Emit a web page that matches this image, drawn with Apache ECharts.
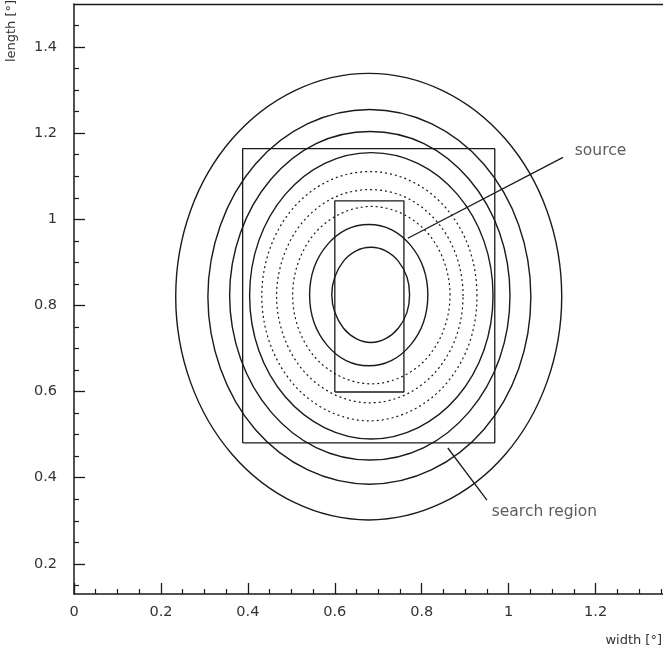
<!DOCTYPE html>
<html lang="en" style="height: 100%">
<head>
  <meta charset="utf-8">
</head>
<body style="height: 100%; margin: 0; background: #fff">
  <div id="container" style="width: 663px; height: 655px"></div>

  <script type="text/javascript" src="https://fastly.jsdelivr.net/npm/echarts@6.0.0/dist/echarts.min.js"></script>
  <script type="text/javascript">
// tick positions
var xMajor = [0, 0.2, 0.4, 0.6, 0.8, 1, 1.2];
var xMinor = [0.05, 0.1, 0.15, 0.25, 0.3, 0.35, 0.45, 0.5, 0.55, 0.65, 0.7, 0.75, 0.85, 0.9, 0.95, 1.05, 1.1, 1.15, 1.25, 1.3, 1.35];
var yMajor = [0.2, 0.4, 0.6, 0.8, 1, 1.2, 1.4];
var yMinor = [0.15, 0.25, 0.3, 0.35, 0.45, 0.5, 0.55, 0.65, 0.7, 0.75, 0.85, 0.9, 0.95, 1.05, 1.1, 1.15, 1.25, 1.3, 1.35, 1.45];

// contours, outermost first (width, length), closed loops
var contour1 = [[1.122,0.821],[1.088,1.020],[0.992,1.187],[0.848,1.299],[0.678,1.339],[0.508,1.299],[0.364,1.187],[0.268,1.020],[0.234,0.821],[0.268,0.622],[0.364,0.454],[0.508,0.342],[0.678,0.302],[0.848,0.342],[0.992,0.454],[1.088,0.622]];
var contour2 = [[1.051,0.820],[1.023,0.987],[0.943,1.128],[0.822,1.222],[0.680,1.255],[0.538,1.222],[0.417,1.128],[0.337,0.987],[0.308,0.820],[0.337,0.653],[0.417,0.512],[0.538,0.418],[0.680,0.385],[0.822,0.418],[0.943,0.512],[1.023,0.653]];
var contour3 = [[1.003,0.823],[0.979,0.969],[0.909,1.093],[0.805,1.176],[0.681,1.204],[0.557,1.176],[0.453,1.093],[0.383,0.969],[0.358,0.823],[0.383,0.677],[0.453,0.553],[0.557,0.470],[0.681,0.441],[0.805,0.470],[0.909,0.553],[0.979,0.677]];
var contour4 = [[0.964,0.823],[0.943,0.950],[0.882,1.058],[0.791,1.130],[0.684,1.155],[0.577,1.130],[0.486,1.058],[0.425,0.950],[0.404,0.823],[0.425,0.696],[0.486,0.588],[0.577,0.516],[0.684,0.490],[0.791,0.516],[0.882,0.588],[0.943,0.696]];
var dotted1 = [[0.927,0.822],[0.909,0.933],[0.855,1.027],[0.775,1.089],[0.680,1.111],[0.585,1.089],[0.505,1.027],[0.451,0.933],[0.432,0.822],[0.451,0.711],[0.505,0.617],[0.585,0.555],[0.680,0.532],[0.775,0.555],[0.855,0.617],[0.909,0.711]];
var dotted2 = [[0.895,0.822],[0.879,0.917],[0.833,0.997],[0.763,1.051],[0.681,1.069],[0.599,1.051],[0.529,0.997],[0.483,0.917],[0.466,0.822],[0.483,0.727],[0.529,0.647],[0.599,0.593],[0.681,0.574],[0.763,0.593],[0.833,0.647],[0.879,0.727]];
var dotted3 = [[0.865,0.824],[0.851,0.903],[0.812,0.970],[0.753,1.014],[0.684,1.030],[0.615,1.014],[0.556,0.970],[0.517,0.903],[0.503,0.824],[0.517,0.745],[0.556,0.678],[0.615,0.634],[0.684,0.618],[0.753,0.634],[0.812,0.678],[0.851,0.745]];
var contour5 = [[0.814,0.824],[0.804,0.887],[0.774,0.940],[0.730,0.976],[0.678,0.988],[0.626,0.976],[0.582,0.940],[0.552,0.887],[0.542,0.824],[0.552,0.761],[0.582,0.708],[0.626,0.672],[0.678,0.660],[0.730,0.672],[0.774,0.708],[0.804,0.761]];
var contour6 = [[0.772,0.825],[0.766,0.866],[0.746,0.903],[0.717,0.927],[0.683,0.935],[0.649,0.927],[0.620,0.903],[0.600,0.866],[0.593,0.825],[0.600,0.784],[0.620,0.747],[0.649,0.723],[0.683,0.714],[0.717,0.723],[0.746,0.747],[0.766,0.784]];

// boxes
var searchBox = [[0.388,0.481],[0.968,0.481],[0.968,1.164],[0.388,1.164],[0.388,0.481]];
var sourceBox = [[0.600,0.599],[0.759,0.599],[0.759,1.043],[0.600,1.043],[0.600,0.599]];

// annotation pointers and labels
var sourcePointer = [[0.768,0.956],[1.125,1.144]];
var searchPointer = [[0.860,0.469],[0.950,0.348]];
var notes = [
  { name: 'source', value: [1.152, 1.159] },
  { name: 'search region', value: [0.961, 0.320] }
];

var dom = document.getElementById('container');
var myChart = echarts.init(dom, null, { renderer: 'canvas' });

var ink = '#1a1a1a';
var font = 'DejaVu Sans';
var textColor = '#333';

var loops = [
  { pts: contour1, dashed: false },
  { pts: contour2, dashed: false },
  { pts: contour3, dashed: false },
  { pts: contour4, dashed: false },
  { pts: dotted1, dashed: true },
  { pts: dotted2, dashed: true },
  { pts: dotted3, dashed: true },
  { pts: contour5, dashed: false },
  { pts: contour6, dashed: false }
];

function straight(data) {
  return {
    type: 'line',
    data: data,
    showSymbol: false,
    silent: true,
    lineStyle: { color: ink, width: 1.3 }
  };
}

var option = {
  animation: false,
  grid: { left: 74, right: 0, top: 4, bottom: 61 },
  xAxis: [
    {
      type: 'value', min: 0, max: 1.355, position: 'bottom',
      axisLine: { lineStyle: { color: ink, width: 1.5 } },
      axisTick: { inside: true, length: 11, customValues: xMajor, lineStyle: { color: ink, width: 1.3 } },
      axisLabel: { customValues: xMajor, margin: 11, color: textColor, fontFamily: font, fontSize: 14.5 },
      splitLine: { show: false }
    },
    {
      type: 'value', min: 0, max: 1.355, position: 'bottom',
      axisLine: { show: false },
      axisTick: { inside: true, length: 5, customValues: xMinor, lineStyle: { color: ink, width: 1.2 } },
      axisLabel: { show: false },
      splitLine: { show: false }
    },
    {
      type: 'value', min: 0, max: 1.355, position: 'top',
      axisLine: { lineStyle: { color: ink, width: 1.3 } },
      axisTick: { show: false },
      axisLabel: { show: false },
      splitLine: { show: false }
    }
  ],
  yAxis: [
    {
      type: 'value', min: 0.13, max: 1.5, position: 'left',
      axisLine: { show: true, lineStyle: { color: ink, width: 1.5 } },
      axisTick: { show: true, inside: true, length: 11, customValues: yMajor, lineStyle: { color: ink, width: 1.3 } },
      axisLabel: { customValues: yMajor, margin: 17, color: textColor, fontFamily: font, fontSize: 14.5 },
      splitLine: { show: false }
    },
    {
      type: 'value', min: 0.13, max: 1.5, position: 'left',
      axisLine: { show: false },
      axisTick: { show: true, inside: true, length: 5, customValues: yMinor, lineStyle: { color: ink, width: 1.2 } },
      axisLabel: { show: false },
      splitLine: { show: false }
    }
  ],
  graphic: [
    {
      type: 'text', x: 12, y: 31, rotation: Math.PI / 2,
      style: { text: 'length [°]', fill: textColor, font: '13px "DejaVu Sans"', align: 'center', verticalAlign: 'middle' }
    },
    {
      type: 'text', x: 662, y: 641,
      style: { text: 'width [°]', fill: textColor, font: '13px "DejaVu Sans"', align: 'right', verticalAlign: 'middle' }
    }
  ],
  series: [
    {
      // each contour is a closed smooth loop placed through the axes
      type: 'custom',
      coordinateSystem: 'cartesian2d',
      silent: true,
      clip: true,
      data: loops.map(function (l) { return l.pts[0]; }),
      renderItem: function (params, api) {
        var loop = loops[params.dataIndex];
        var points = loop.pts.map(function (p) { return api.coord(p); });
        return {
          type: 'polygon',
          shape: { points: points, smooth: 0.34 },
          style: {
            fill: 'none',
            stroke: ink,
            lineWidth: loop.dashed ? 1.2 : 1.4,
            lineDash: loop.dashed ? [2, 3] : null
          }
        };
      }
    },
    straight(searchBox), straight(sourceBox),
    straight(sourcePointer), straight(searchPointer),
    {
      type: 'scatter',
      data: notes,
      symbolSize: 0,
      silent: true,
      label: {
        show: true, position: 'right', distance: 0,
        formatter: '{b}', color: textColor, fontFamily: font, fontSize: 15.5
      }
    }
  ]
};

myChart.setOption(option);
window.addEventListener('resize', myChart.resize);
  </script>
</body>
</html>
